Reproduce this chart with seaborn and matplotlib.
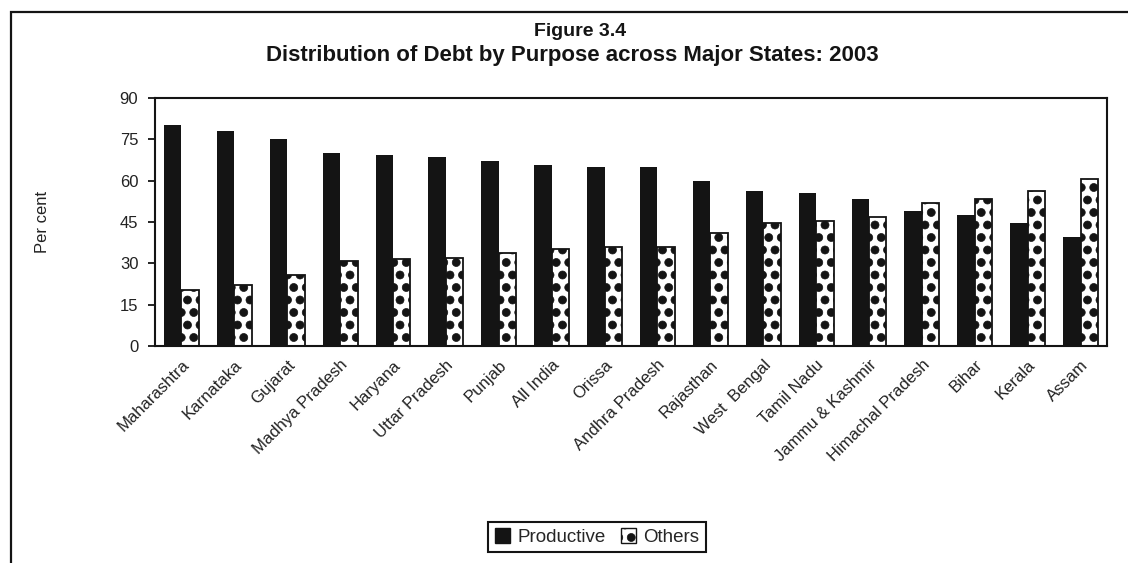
import numpy as np
import pandas as pd
import matplotlib
matplotlib.use("Agg")
import matplotlib.pyplot as plt
import matplotlib.hatch as mhatch
from matplotlib.lines import Line2D
import seaborn as sns

states = ["Maharashtra", "Karnataka", "Gujarat", "Madhya Pradesh", "Haryana",
          "Uttar Pradesh", "Punjab", "All India", "Orissa", "Andhra Pradesh",
          "Rajasthan", "West  Bengal", "Tamil Nadu", "Jammu & Kashmir",
          "Himachal Pradesh", "Bihar", "Kerala", "Assam"]
productive = [80.2, 78.0, 75.1, 70.0, 69.3, 68.6, 67.1, 65.7, 64.9, 64.9,
              59.9, 56.2, 55.5, 53.3, 49.0, 47.5, 44.6, 39.5]
others = [20.3, 22.0, 25.6, 30.7, 31.4, 32.1, 33.6, 35.2, 35.8, 35.8,
          40.9, 44.5, 45.2, 46.7, 51.8, 53.2, 56.1, 60.5]
series = ["Productive", "Others"]
yticks = [0, 15, 30, 45, 60, 75, 90]

df = pd.DataFrame({
    "State": states * 2,
    "Purpose": [series[0]] * len(states) + [series[1]] * len(states),
    "Value": productive + others,
})

sns.set_style("white")
plt.rcParams["font.family"] = ["Liberation Sans", "DejaVu Sans"]
plt.rcParams["hatch.color"] = "#141414"
plt.rcParams["hatch.linewidth"] = 0.5

# denser, larger dot pattern for the "Others" fill (row count must stay even)
_orig_init = mhatch.SmallFilledCircles.__init__
def _dot_init(self, hatch, density):
    _orig_init(self, hatch, 8)
mhatch.SmallFilledCircles.__init__ = _dot_init
mhatch.SmallFilledCircles.size = 0.32

fig = plt.figure(figsize=(11.28, 5.63), dpi=100)
ax = fig.add_axes([155 / 1128, 1 - 346 / 563, (1107 - 155) / 1128, (346 - 98) / 563])

sns.barplot(data=df, x="State", y="Value", hue="Purpose", order=states,
            hue_order=series, palette=["#141414", "white"], width=0.66,
            saturation=1, ax=ax, legend=True)

n = len(states)
for i, bar in enumerate(ax.patches):
    if i < n:
        bar.set_edgecolor("#141414")
        bar.set_linewidth(0)
    elif i < 2 * n:
        bar.set_edgecolor("#141414")
        bar.set_linewidth(1.3)
        bar.set_hatch(".")

ax.set_xlim(-0.5, n - 0.5)
ax.set_ylim(0, 90)
ax.set_yticks(yticks)
ax.set_yticklabels([str(v) for v in yticks], fontsize=12, color="#222222")
ax.set_xticks(range(n))
ax.set_xticklabels(states, rotation=45, ha="right", rotation_mode="anchor",
                   fontsize=12, color="#222222")
ax.set_xticks(np.arange(-0.5, n, 1), minor=True)
ax.tick_params(axis="x", which="major", length=0, pad=8)
ax.tick_params(axis="x", which="minor", length=5, width=1.3, color="#141414", direction="out")
ax.tick_params(axis="y", length=5, width=1.3, color="#141414", direction="out", left=True, pad=7)
ax.set_xlabel("")
ax.set_ylabel("Per cent", fontsize=12, color="#222222", labelpad=50)
for s in ax.spines.values():
    s.set_visible(True)
    s.set_color("#141414")
    s.set_linewidth(1.5)

handles, labels = ax.get_legend_handles_labels()
ax.get_legend().remove()
for h in handles:
    h.set_edgecolor("#141414")
handles[1].set_hatch(".")
leg = fig.legend(handles, labels, loc="center", bbox_to_anchor=(597 / 1128, 1 - 537 / 563),
                 ncol=2, fontsize=13.5, frameon=True, fancybox=False, framealpha=1,
                 edgecolor="#141414", handlelength=0.8, handleheight=0.8,
                 handletextpad=0.4, columnspacing=0.8, borderpad=0.35)
leg.get_frame().set_linewidth(1.5)

fig.text(580 / 1128, 1 - 31 / 563, "Figure 3.4", ha="center", va="center",
         fontsize=14, fontweight="bold", color="#141414")
fig.text(572 / 1128, 1 - 55 / 563, "Distribution of Debt by Purpose across Major States: 2003",
         ha="center", va="center", fontsize=16, fontweight="bold", color="#141414")

x0 = 11 / 1128
y0 = 1 - 12 / 563
fig.add_artist(Line2D([x0, x0, 1.0], [0.0, y0, y0], transform=fig.transFigure,
                      color="#141414", linewidth=1.6, solid_joinstyle="miter"))

fig.savefig("out.png", dpi=100, facecolor="white")
